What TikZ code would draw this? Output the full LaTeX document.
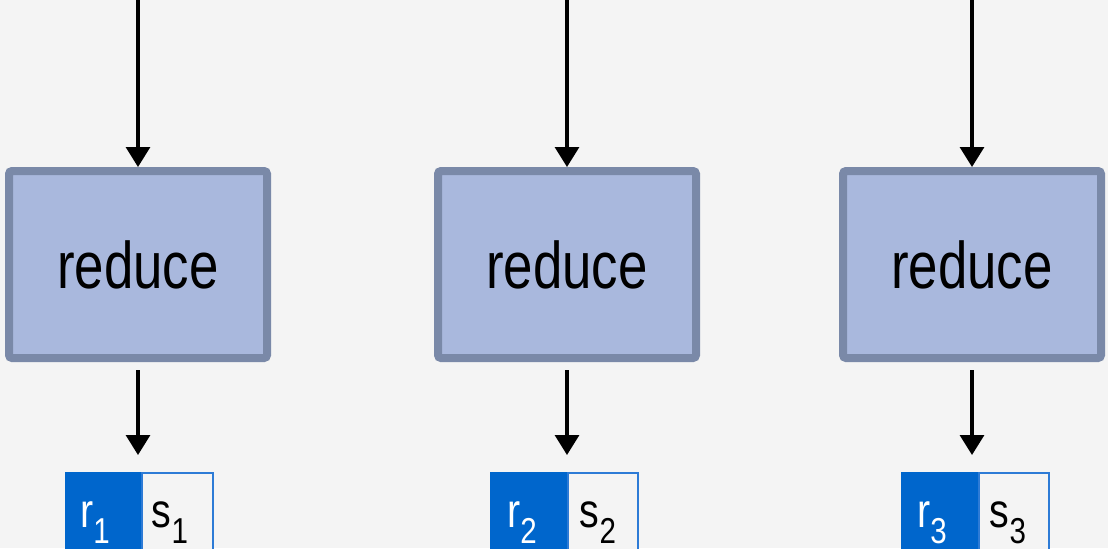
\documentclass[tikz,border=0pt]{standalone}
\usepackage{fontspec}
\setmainfont{Liberation Sans}
\usepackage{graphicx}
\usetikzlibrary{calc,arrows.meta}

\definecolor{boxfill}{HTML}{A9B8DD}
\definecolor{boxline}{HTML}{7A89A8}
\definecolor{rblue}{HTML}{0066CC}
\definecolor{sline}{HTML}{2D7BD6}
\definecolor{bgcol}{HTML}{F4F4F4}

% narrow sans text, sub-indexed labels
\newcommand{\narrowtxt}[1]{\scalebox{0.8}[1]{#1}}
\newcommand{\idxlabel}[2]{\scalebox{0.82}[1]{#1\raisebox{-8pt}{\fontsize{18}{18}\selectfont #2}}}

\begin{document}
\begin{tikzpicture}[x=0.5pt,y=0.5pt,
  reducebox/.style={draw=boxline, fill=boxfill, line width=4pt, rounded corners=1.5pt,
    minimum width=129pt, minimum height=93.5pt, inner sep=0pt,
    font=\fontsize{33}{33}\selectfont},
  arr/.style={-{Triangle[width=12pt,length=10pt]}, line width=1.6pt},
  rpart/.style={draw=rblue, fill=rblue, line width=1pt, minimum height=40pt,
    inner sep=0pt, anchor=north east},
  spart/.style={draw=sline, fill=bgcol, line width=1pt, minimum height=40pt,
    inner sep=0pt, anchor=north west},
  idx/.style={anchor=base, inner sep=0pt, font=\fontsize{24}{24}\selectfont}]

\fill[bgcol] (0,0) rectangle (1108,548);
\useasboundingbox (0,0) rectangle (1108,548);
\clip (0,0) rectangle (1108,548);

\coordinate (in1) at (138,548);
\coordinate (in2) at (567,548);
\coordinate (in3) at (972,548);

\node[reducebox] (red1) at (138,283.5) {\narrowtxt{reduce}};
\node[reducebox] (red2) at (567,283.5) {\narrowtxt{reduce}};
\node[reducebox] (red3) at (972,283.5) {\narrowtxt{reduce}};

\node[rpart, minimum width=37pt] (r1) at (141,76) {};
\node[spart, minimum width=35.5pt] (s1) at (r1.north east) {};
\node[rpart, minimum width=37.5pt] (r2) at (567,76) {};
\node[spart, minimum width=35pt] (s2) at (r2.north east) {};
\node[rpart, minimum width=37.5pt] (r3) at (978,76) {};
\node[spart, minimum width=35pt] (s3) at (r3.north east) {};

\draw[arr] (in1) -- (red1.north);
\draw[arr] (in2) -- (red2.north);
\draw[arr] (in3) -- (red3.north);

\draw[arr, shorten <=4pt, shorten >=8.5pt] (red1.south) -- (red1.south |- r1.north);
\draw[arr, shorten <=4pt, shorten >=8.5pt] (red2.south) -- (red2.south |- r2.north);
\draw[arr, shorten <=4pt, shorten >=8.5pt] (red3.south) -- (red3.south |- r3.north);

\node[idx, text=white] (lr1) at (95,21) {\idxlabel{r}{1}};
\node[idx] (ls1) at (170,21) {\idxlabel{s}{1}};
\node[idx, text=white] (lr2) at (522,21) {\idxlabel{r}{2}};
\node[idx] (ls2) at (598,21) {\idxlabel{s}{2}};
\node[idx, text=white] (lr3) at (932,21) {\idxlabel{r}{3}};
\node[idx] (ls3) at (1008,21) {\idxlabel{s}{3}};

\end{tikzpicture}
\end{document}
